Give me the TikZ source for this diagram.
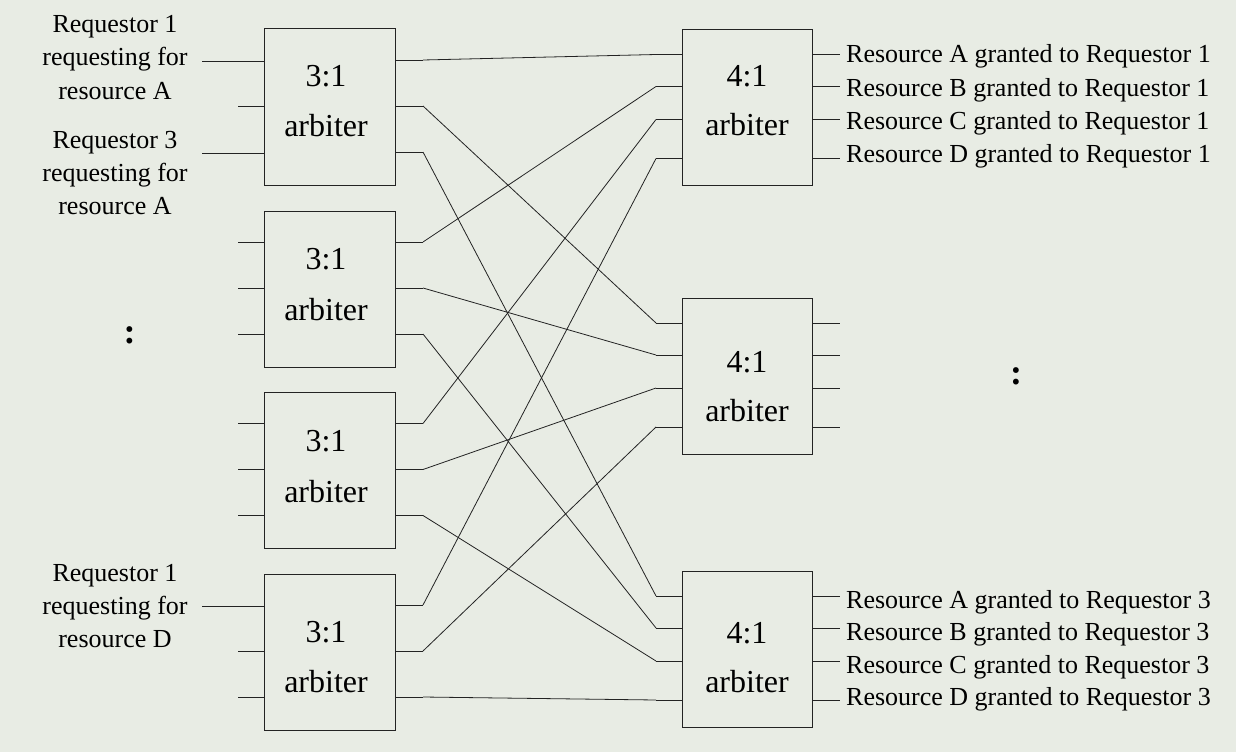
\documentclass[tikz,border=0pt]{standalone}
\usepackage{fontspec}
\setmainfont{Liberation Serif}
\usetikzlibrary{calc}
\definecolor{bg}{RGB}{232,236,228}
\definecolor{ln}{RGB}{35,35,35}
\begin{document}
\begin{tikzpicture}[x=1pt,y=-1pt,
  arbbox/.style={draw=ln, line width=1pt, inner sep=0pt, minimum width=131pt, minimum height=156pt},
  wire/.style={draw=ln, line width=0.8pt},
  lbl/.style={font=\fontsize{26}{33}\selectfont, inner sep=0pt, text=black},
  arbtxt/.style={font=\fontsize{32}{40}\selectfont, inner sep=0pt, anchor=base, text=black},
  dots/.style={font=\fontsize{36}{40}\bfseries, inner sep=0pt, anchor=base, text=black}]
\fill[bg] (0,0) rectangle (1236,752);
\useasboundingbox (0,0) rectangle (1236,752);

% ---------- 3:1 arbiters ----------
\foreach \i/\y in {1/107,2/289,3/470.5,4/652}{
  \node[arbbox] (L\i) at (329.5,\y) {};
  \foreach \j/\off in {1/31,2/77,3/123}{
    \coordinate (Lo\i\j) at (423,{\y-78+\off});
    \coordinate (Li\i\j) at (238,{\y-78+\off});
    \draw[wire] (L\i.east |- Lo\i\j) -- (Lo\i\j);
  }
}
% input stubs
\coordinate (Li11) at (202,61);
\coordinate (Li13) at (202,153);
\coordinate (Li41) at (202,606);
\foreach \i in {1,2,3,4}{
  \foreach \j in {1,2,3}{
    \draw[wire] (Li\i\j) -- (L\i.west |- Li\i\j);
  }
}

% ---------- 4:1 arbiters ----------
\foreach \k/\y in {1/107.5,2/376,3/649}{
  \node[arbbox, minimum width=130pt] (R\k) at (747,\y) {};
  \foreach \m/\off in {1/25,2/57,3/90,4/129}{
    \coordinate (Ri\k\m) at (656,{\y-78+\off});
    \coordinate (Ro\k\m) at (840,{\y-78+\off});
    \draw[wire] (Ri\k\m) -- (R\k.west |- Ri\k\m);
    \draw[wire] (R\k.east |- Ro\k\m) -- (Ro\k\m);
  }
}

% ---------- crossbar connections ----------
\foreach \i in {1,2,3,4}{
  \foreach \j in {1,2,3}{
    \draw[wire] (Lo\i\j) -- (Ri\j\i);
  }
}

% ---------- box texts ----------
\node[arbtxt] (L1a) at (326,86) {3:1};
\node[arbtxt] (L1b) at (326,136) {arbiter};
\node[arbtxt] (L2a) at (326,269) {3:1};
\node[arbtxt] (L2b) at (326,320) {arbiter};
\node[arbtxt] (L3a) at (326,451) {3:1};
\node[arbtxt] (L3b) at (326,502) {arbiter};
\node[arbtxt] (L4a) at (326,642) {3:1};
\node[arbtxt] (L4b) at (326,692) {arbiter};
\node[arbtxt] (R1a) at (747,86) {4:1};
\node[arbtxt] (R1b) at (747,135) {arbiter};
\node[arbtxt] (R2a) at (747,372) {4:1};
\node[arbtxt] (R2b) at (747,421) {arbiter};
\node[arbtxt] (R3a) at (747,643) {4:1};
\node[arbtxt] (R3b) at (747,692) {arbiter};

% ---------- left labels ----------
\node[lbl, anchor=base] (q1a) at (115,33) {Requestor 1};
\node[lbl, anchor=base] (q1b) at (115,66) {requesting for};
\node[lbl, anchor=base] (q1c) at (115,99) {resource A};
\node[lbl, anchor=base] (q2a) at (115,148) {Requestor 3};
\node[lbl, anchor=base] (q2b) at (115,181) {requesting for};
\node[lbl, anchor=base] (q2c) at (115,214) {resource A};
\node[lbl, anchor=base] (q3a) at (115,581) {Requestor 1};
\node[lbl, anchor=base] (q3b) at (115,614) {requesting for};
\node[lbl, anchor=base] (q3c) at (115,647) {resource D};

% ---------- right labels ----------
\node[lbl, anchor=base west] (g1a) at (846,63) {Resource A granted to Requestor 1};
\node[lbl, anchor=base west] (g1b) at (846,96) {Resource B granted to Requestor 1};
\node[lbl, anchor=base west] (g1c) at (846,129) {Resource C granted to Requestor 1};
\node[lbl, anchor=base west] (g1d) at (846,162) {Resource D granted to Requestor 1};
\node[lbl, anchor=base west] (g3a) at (846,608) {Resource A granted to Requestor 3};
\node[lbl, anchor=base west] (g3b) at (846,640) {Resource B granted to Requestor 3};
\node[lbl, anchor=base west] (g3c) at (846,673) {Resource C granted to Requestor 3};
\node[lbl, anchor=base west] (g3d) at (846,705) {Resource D granted to Requestor 3};

% ---------- ellipsis colons ----------
\node[dots] (c1) at (129.5,343) {:};
\node[dots] (c2) at (1016,384) {:};
\end{tikzpicture}
\end{document}
